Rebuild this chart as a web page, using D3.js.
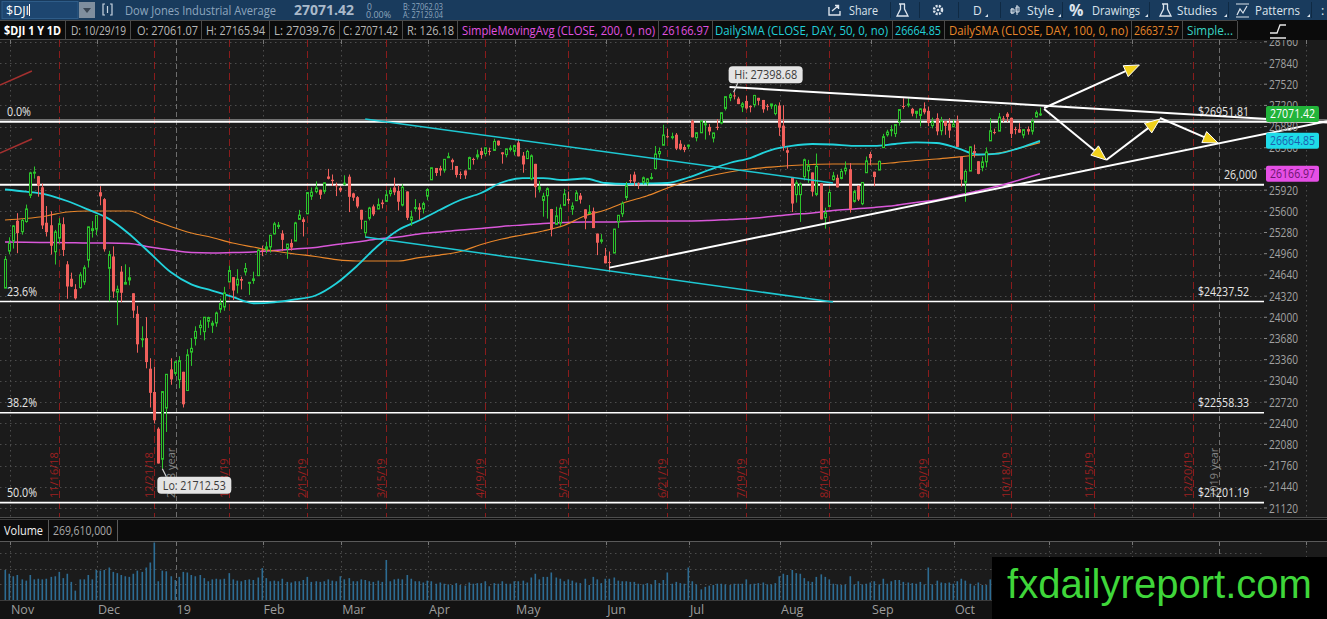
<!DOCTYPE html>
<html>
<head>
<meta charset="utf-8">
<script src="https://cdn.jsdelivr.net/npm/d3@7"></script>
<style>
body { margin: 0; background: #1b1b1b; overflow: hidden; }
svg { display: block; font-family: "Open Sans", sans-serif; }
</style>
</head>
<body>
<div id="chart"></div>
<script>
// daily bars of $DJI, 10/30/18 .. 10/29/19 (one value per trading day)
var opens = [24441, 25000,
  25156, 25458, 25292, 25446, 25841, 26186, 26130, 25963, 25428, 25390, 24990, 25196, 25406, 24800, 24582, 24424, 24448, 24535, 24863, 25309, 25330,
  25888, 25784, 24740, 24918, 24379, 24689, 24500, 24563, 24363, 24052, 23675, 23686, 23224, 22872, 22317, 21857, 22629, 23213, 23153,
  23058, 23177, 22894, 23474, 23680, 23844, 23783, 23940, 23880, 23914, 24122, 24155, 24534, 24606, 24485, 24578, 24685, 24526, 24555, 24628, 25012,
  25026, 25062, 25259, 25371, 25265, 25040, 25123, 25151, 25479, 25479, 25563, 25828, 25898, 25926, 25902, 26126, 26077, 25994, 25954,
  26020, 26123, 25871, 25814, 25623, 25277, 25495, 25674, 25635, 25733, 25750, 25867, 25960, 25909, 25694, 25900, 25468, 25649, 25660, 25638, 25830,
  26076, 26255, 26250, 26222, 26423, 26377, 26285, 26165, 26216, 26238, 26391, 26423, 26510, 26473, 26513, 26520, 26667, 26491, 26456, 26535, 26506,
  26639, 26441, 26396, 26090, 26317, 25932, 25764, 25836, 25635, 25404, 25423, 25690, 25787, 25633, 25761, 25838, 25630, 25567, 25603, 25264, 25147, 24926,
  24836, 24970, 25443, 25563, 25809, 26071, 26155, 26024, 26040, 26033, 26110, 26246, 26469, 26598, 26734, 26719, 26757, 26621, 26572, 26583,
  26964, 26712, 26786, 26911, 26875, 26707, 26876, 26934, 27154, 27315, 27351, 27302, 27177, 27267, 27192, 27212, 27314, 27282, 27193, 27192, 27076, 27197,
  26894, 26523, 26117, 25852, 25851, 26124, 26213, 26187, 25855, 26023, 25504, 25673, 26078, 26106, 26097, 26211, 26236, 25750, 25984, 25715, 26183, 26466,
  26198, 26223, 26562, 26756, 26818, 26774, 26954, 27191, 27212, 27148, 27078, 27048, 27152, 27118, 26895, 27006, 26817, 26961, 26924, 26876,
  26963, 26425, 26039, 26208, 26510, 26357, 26263, 26347, 26664, 26797, 26811, 27003, 27074, 27012, 26842, 26840, 26752, 26842, 26810, 27026, 27061];
var highs = [24925, 25208,
  25393, 25572, 25489, 25702, 26198, 26277, 26135, 26020, 25680, 25600, 25320, 25496, 25509, 24848, 24674, 24500, 24681, 24785, 25367, 25453, 25538,
  25980, 25800, 25004, 25071, 24479, 24773, 24800, 24757, 24363, 24173, 23864, 24003, 23382, 23254, 22339, 22878, 23138, 23381, 23333,
  23413, 23177, 23518, 23687, 23864, 23956, 24002, 24009, 23948, 24086, 24282, 24460, 24778, 24606, 24726, 24613, 24820, 24528, 24689, 25029, 25082,
  25140, 25239, 25441, 25439, 25314, 25106, 25178, 25442, 25622, 25510, 25883, 25961, 26052, 25926, 26036, 26241, 26156, 26034, 25978,
  26144, 26156, 25881, 25830, 25623, 25451, 25668, 25702, 25794, 25776, 25920, 25958, 26109, 25996, 26008, 25900, 25611, 25785, 25723, 25745, 25949,
  26258, 26255, 26288, 26386, 26486, 26398, 26285, 26202, 26218, 26426, 26410, 26531, 26561, 26560, 26561, 26695, 26668, 26491, 26544, 26598, 26606,
  26695, 26496, 26530, 26460, 26317, 26056, 25880, 25962, 25637, 25669, 25706, 25940, 25899, 25735, 25918, 25877, 25630, 25695, 25657, 25264, 25256, 25047,
  24994, 25335, 25544, 25750, 26044, 26159, 26199, 26037, 26126, 26104, 26180, 26586, 26564, 26907, 26844, 26788, 26782, 26674, 26606, 26608,
  26982, 26787, 26966, 26964, 26920, 26787, 26992, 27089, 27332, 27388, 27399, 27330, 27252, 27344, 27198, 27359, 27314, 27282, 27221, 27220, 27218, 27245,
  27202, 26566, 26117, 26070, 26036, 26397, 26377, 26187, 26473, 26023, 25655, 25932, 26196, 26155, 26243, 26354, 26328, 25924, 25995, 26037, 26428, 26500,
  26199, 26366, 26770, 26832, 26901, 26910, 27137, 27307, 27306, 27163, 27113, 27156, 27245, 27178, 27014, 27080, 27027, 26963, 27008, 26985,
  27046, 26425, 26228, 26581, 26608, 26357, 26423, 26565, 27007, 26848, 27085, 27040, 27097, 27012, 26877, 26932, 26837, 26882, 27004, 27123, 27166];
var lows = [24441, 24950,
  25038, 24968, 25248, 25428, 25800, 26094, 25821, 25333, 25220, 24948, 24797, 25123, 24925, 24280, 24458, 24268, 24431, 24490, 24751, 25204, 25240,
  25692, 24992, 24242, 24294, 23881, 24228, 24500, 24484, 23990, 23465, 23547, 23229, 22638, 22396, 21792, 21713, 22268, 22981, 23118,
  22928, 22638, 22894, 23266, 23574, 23730, 23652, 23840, 23764, 23857, 24068, 24098, 24534, 24262, 24361, 24421, 24635, 24338, 24506, 24628, 24924,
  24967, 24977, 25252, 25333, 25000, 24883, 25007, 25151, 25479, 25221, 25563, 25773, 25872, 25786, 25865, 26082, 25983, 25830, 25889,
  25991, 25589, 25758, 25647, 25330, 25208, 25463, 25528, 25635, 25644, 25740, 25825, 25845, 25613, 25674, 25469, 25380, 25594, 25475, 25568, 25766,
  26076, 26134, 26137, 26184, 26410, 26227, 26111, 26088, 26090, 26238, 26306, 26383, 26395, 26438, 26445, 26512, 26590, 26320, 26415, 26504, 26444,
  26430, 26183, 26392, 26068, 25808, 25885, 25519, 25490, 25222, 25404, 25381, 25689, 25707, 25547, 25761, 25717, 25329, 25567, 25347, 24939, 25112, 24815,
  24681, 24970, 25349, 25515, 25768, 26025, 25981, 25938, 26007, 25988, 26080, 26246, 26412, 26598, 26701, 26686, 26525, 26523, 26493, 26539,
  26715, 26657, 26786, 26684, 26749, 26641, 26826, 26914, 27123, 27263, 27290, 27219, 27099, 27137, 27095, 27170, 27201, 27089, 27122, 27146, 27050, 26740,
  26515, 26245, 25590, 25732, 25440, 26067, 26030, 25825, 25829, 25479, 25339, 25673, 26066, 25961, 26083, 26155, 25580, 25732, 25755, 25693, 26183, 26296,
  25978, 26223, 26562, 26728, 26733, 26722, 26894, 27147, 27172, 27035, 27003, 26882, 27065, 26886, 26853, 26749, 26749, 26756, 26709, 26874,
  26573, 25974, 25744, 26208, 26412, 26160, 26204, 26265, 26664, 26764, 26811, 26948, 26951, 26706, 26763, 26787, 26704, 26758, 26759, 27017, 27040];
var closes = [24874, 25116,
  25380, 25271, 25462, 25636, 26181, 26191, 25989, 25387, 25286, 25080, 25289, 25413, 25017, 24465, 24464, 24286, 24640, 24748, 25366, 25338, 25538,
  25826, 25027, 24947, 24389, 24423, 24370, 24527, 24597, 24101, 23592, 23675, 23324, 22859, 22445, 21792, 22878, 23139, 23062, 23327,
  23346, 22686, 23433, 23531, 23787, 23879, 24001, 23996, 23910, 24065, 24207, 24370, 24706, 24404, 24575, 24553, 24737, 24528, 24580, 25014, 24999,
  25064, 25239, 25411, 25390, 25169, 25106, 25053, 25425, 25543, 25439, 25883, 25891, 25954, 25850, 26031, 26091, 26057, 25985, 25916,
  26026, 25819, 25806, 25673, 25473, 25450, 25650, 25554, 25702, 25709, 25849, 25914, 25887, 25745, 25962, 25502, 25516, 25657, 25625, 25717, 25929,
  26258, 26179, 26218, 26385, 26425, 26341, 26150, 26157, 26143, 26412, 26385, 26453, 26450, 26559, 26512, 26656, 26597, 26462, 26543, 26554, 26593,
  26430, 26308, 26505, 26438, 25965, 25968, 25828, 25942, 25325, 25532, 25648, 25862, 25764, 25680, 25877, 25776, 25490, 25586, 25347, 25126, 25169, 24815,
  24820, 25332, 25540, 25720, 25984, 26062, 26049, 26005, 26107, 26090, 26112, 26466, 26504, 26753, 26720, 26728, 26548, 26537, 26527, 26600,
  26718, 26787, 26966, 26922, 26806, 26784, 26860, 27089, 27332, 27360, 27336, 27220, 27223, 27154, 27172, 27350, 27270, 27141, 27192, 27222, 27199, 26864,
  26583, 26485, 25718, 26030, 26008, 26379, 26287, 25897, 26280, 25479, 25579, 25886, 26136, 25962, 26202, 26252, 25629, 25898, 25778, 26036, 26362, 26403,
  26118, 26355, 26728, 26797, 26835, 26910, 27137, 27182, 27220, 27076, 27111, 27147, 27095, 26935, 26949, 26808, 26970, 26891, 26820, 26917,
  26573, 26079, 26202, 26574, 26478, 26165, 26347, 26497, 26817, 26787, 27024, 27002, 27026, 26770, 26828, 26788, 26834, 26806, 26958, 27091, 27071];
// volume, millions of shares
var volumes = [480, 420,
  380, 400, 330, 310, 400, 330, 340, 330, 340, 370, 380, 450, 350, 420, 290, 150, 330, 330, 400, 330, 480,
  470, 480, 520, 450, 430, 400, 380, 370, 420, 470, 450, 520, 600, 920, 300, 470, 460, 380, 320,
  370, 450, 440, 400, 380, 400, 350, 300, 330, 340, 330, 340, 430, 330, 310, 300, 320, 330, 320, 360, 510,
  350, 300, 310, 300, 340, 290, 280, 300, 300, 320, 370, 290, 300, 290, 300, 330, 310, 300, 380,
  330, 350, 300, 300, 330, 320, 300, 290, 310, 290, 640, 300, 330, 340, 330, 400, 340, 300, 300, 280, 310,
  300, 260, 280, 260, 250, 240, 270, 240, 230, 280, 260, 270, 270, 300, 220, 270, 260, 300, 260, 260, 300,
  300, 310, 280, 360, 420, 330, 370, 370, 440, 360, 340, 300, 330, 310, 280, 270, 340, 240, 370, 330, 270, 340,
  340, 360, 310, 300, 300, 290, 290, 260, 250, 270, 250, 320, 270, 320, 440, 260, 290, 270, 260, 520,
  300, 250, 170, 210, 230, 240, 260, 260, 250, 240, 260, 260, 260, 330, 250, 260, 270, 280, 250, 250, 270, 380,
  420, 400, 480, 430, 420, 350, 300, 290, 370, 410, 370, 330, 260, 250, 240, 250, 380, 250, 300, 250, 260, 280,
  300, 250, 340, 260, 300, 320, 320, 290, 280, 270, 260, 290, 250, 520, 250, 310, 280, 270, 280, 260,
  300, 340, 310, 260, 230, 280, 240, 240, 330, 210, 260, 240, 250, 310, 240, 250, 260, 260, 240, 250, 269.61];

// moving averages read every 5th bar (bar 0, 5, 10 ... 250)
var sma50 = [25930, 25898, 25854, 25756, 25629, 25490, 25258, 24971, 24684, 24498, 24403, 24308, 24212, 24225, 24269, 24329, 24510, 24774, 25076, 25318,
  25462, 25620, 25771, 25877, 26035, 26103, 26103, 26073, 26096, 26028, 26013, 26020, 26028, 26111, 26224, 26330, 26405, 26526, 26587, 26617,
  26609, 26587, 26587, 26617, 26640, 26632, 26556, 26458, 26473, 26556, 26665];
var sma100 = [25469, 25492, 25530, 25590, 25605, 25605, 25605, 25484, 25371, 25273, 25205, 25122, 25061, 25001, 24956, 24918, 24872, 24850, 24850, 24850,
  24902, 24940, 24993, 25099, 25182, 25243, 25303, 25386, 25530, 25620, 25741, 25832, 25953, 26058, 26134, 26194, 26239, 26269, 26292, 26307,
  26315, 26315, 26315, 26337, 26368, 26390, 26420, 26451, 26481, 26556, 26638];
var sma200 = [25137, 25133, 25130, 25127, 25122, 25122, 25114, 25061, 25016, 24978, 24971, 24978, 24986, 25009, 25031, 25054, 25099, 25137, 25182, 25212,
  25258, 25288, 25318, 25341, 25371, 25394, 25416, 25431, 25439, 25439, 25447, 25454, 25454, 25454, 25462, 25477, 25492, 25522, 25552, 25575,
  25613, 25635, 25658, 25688, 25734, 25771, 25839, 25907, 25983, 26073, 26167];

var priceTicks = [21120, 21440, 21760, 22080, 22400, 22720, 23040, 23360, 23680, 24000, 24320, 24640, 24960, 25280, 25600, 25920,
  26240, 26560, 26880, 27200, 27520, 27840, 28160];
var volumeGrid = [250, 500, 750];
var monthStarts = ["2018-11-01", "2018-12-03", "2019-01-02", "2019-02-01", "2019-03-01", "2019-04-01", "2019-05-01", "2019-06-03",
  "2019-07-01", "2019-08-01", "2019-09-03", "2019-10-01", "2019-11-01", "2019-12-02", "2020-01-02", "2020-02-03"];
// labels that show left of the watermark box
var monthNames = ["Nov", "Dec", "19", "Feb", "Mar", "Apr", "May", "Jun", "Jul", "Aug", "Sep", "Oct"];
var yearLines = ["2019-01-02", "2020-01-02"];
var yearNames = ["2018 year", "2019 year"];
var expiries = ["2018-11-16", "2018-12-21", "2019-01-18", "2019-02-15", "2019-03-15", "2019-04-19", "2019-05-17", "2019-06-21",
  "2019-07-19", "2019-08-16", "2019-09-20", "2019-10-18", "2019-11-15", "2019-12-20"];
var expiryNames = ["11/16/18", "12/21/18", "1/18/19", "2/15/19", "3/15/19", "4/19/19", "5/17/19", "6/21/19",
  "7/19/19", "8/16/19", "9/20/19", "10/18/19", "11/15/19", "12/20/19"];
var fibLevels = [26951.81, 24237.52, 22558.33, 21201.19];
var fibNames = ["0.0%", "23.6%", "38.2%", "50.0%"];
var holidays = ["2018-11-22", "2018-12-05", "2018-12-25", "2019-01-01", "2019-01-21", "2019-02-18", "2019-04-19", "2019-05-27",
  "2019-07-04", "2019-09-02", "2019-11-28", "2019-12-25", "2020-01-01", "2020-01-20", "2020-02-17"];
var bubbleVals = [27071.42, 26664.85, 26166.97];

// drawings: [date or bar number, price]
var trendLines = [
  {from: ["2019-07-15", 27478], to: ["2019-10-29", 27200], color: "#ffffff", width: 2, extend: true},
  {from: ["2019-06-03", 24750], to: ["2019-10-29", 26076], color: "#ffffff", width: 2, extend: true},
  {from: ["2019-03-08", 26994], to: ["2019-08-19", 26028], color: "#1ec8d2", width: 1.5},
  {from: ["2019-03-08", 25212], to: ["2019-08-19", 24231], color: "#1ec8d2", width: 1.5},
  {from: [-1.2, 27508], to: [6.5, 27719], color: "#a3302f", width: 1.5},
  {from: [-1.2, 26481], to: [6.5, 26692], color: "#a3302f", width: 1.5}
];
var arrows = [
  {from: ["2019-10-30", 27160], to: ["2019-12-03", 27810]},
  {from: ["2019-10-30", 27145], to: ["2019-11-20", 26375]},
  {from: ["2019-11-20", 26375], to: ["2019-12-10", 26994]},
  {from: ["2019-12-10", 27009], to: ["2019-12-31", 26632]}
];

var svgWidth = 1327, svgHeight = 619;
var plotRight = 1264, paneTop = 40, paneBottom = 517;
var bg = "#1b1b1b", upColor = "#2cc42c", downColor = "#f0605c";

// trading calendar
var fmt = d3.utcFormat("%Y-%m-%d");
var days = d3.utcDays(new Date(Date.UTC(2018, 9, 30)), new Date(Date.UTC(2020, 2, 31)))
  .filter(d => d.getUTCDay() % 6 !== 0 && holidays.indexOf(fmt(d)) < 0)
  .map(fmt);
function barOf(v) { return typeof v === "number" ? v : d3.bisectRight(days, v) - 1; }

var x = d3.scaleLinear().domain([0, 250]).range([5, 1040]);
var y = d3.scaleLinear().domain([21120, 27840]).range([508, 63]);
var yVol = d3.scaleLinear().domain([0, 1000]).range([600, 537.5]);

var SVG = d3.select("#chart").append("svg")
  .attr("width", svgWidth)
  .attr("height", svgHeight);

SVG.append("rect").attr("width", svgWidth).attr("height", svgHeight).attr("fill", bg);

var defs = SVG.append("defs");
defs.append("clipPath").attr("id", "pane").append("rect")
  .attr("x", 0).attr("y", paneTop).attr("width", plotRight).attr("height", paneBottom - paneTop);
defs.append("clipPath").attr("id", "paneWide").append("rect")
  .attr("x", 0).attr("y", paneTop).attr("width", svgWidth).attr("height", paneBottom - paneTop);

function txt(g, px, py, s, o) {
  o = o || {};
  var t = g.append("text").attr("x", px).attr("y", py).text(s)
    .attr("font-size", o.size || 12).attr("fill", o.color || "#b5b5b5");
  if (o.weight) t.attr("font-weight", o.weight);
  if (o.anchor) t.attr("text-anchor", o.anchor);
  if (o.len) t.attr("textLength", o.len).attr("lengthAdjust", "spacingAndGlyphs");
  if (o.family) t.attr("font-family", o.family);
  return t;
}

// ---------- grid ----------
var grid = SVG.append("g");
grid.selectAll(".hgrid").data(priceTicks).enter().append("line")
  .attr("x1", 0).attr("x2", plotRight)
  .attr("y1", d => Math.round(y(d)) + 0.5).attr("y2", d => Math.round(y(d)) + 0.5)
  .attr("stroke", "#4c4c4c").attr("stroke-dasharray", "1.5,3.5");

var monthX = monthStarts.map(d => x(barOf(d) - 0.8));
monthStarts.forEach(function(d, k) {
  var mx = Math.round(monthX[k]) + 0.5;
  var isYear = yearLines.indexOf(d) >= 0;
  [[paneTop, paneBottom], [541, 600]].forEach(function(r) {
    grid.append("line").attr("x1", mx).attr("x2", mx).attr("y1", r[0]).attr("y2", r[1])
      .attr("stroke", isYear ? "#6e6e6e" : "#4c4c4c")
      .attr("stroke-dasharray", isYear ? "5,3" : "1.5,3.5");
    grid.append("line").attr("x1", mx).attr("x2", mx).attr("y1", r[0]).attr("y2", r[0] + 4)
      .attr("stroke", "#777");
  });
});

// option expiration lines
expiries.forEach(function(d, k) {
  var ex = Math.round(x(barOf(d))) + 0.5;
  grid.append("line").attr("x1", ex).attr("x2", ex).attr("y1", paneTop).attr("y2", paneBottom)
    .attr("stroke", "#8a1c1c").attr("stroke-dasharray", "7,4");
  grid.append("text").attr("transform", "translate(" + (ex - 1.5) + ",498) rotate(-90)")
    .attr("font-size", 11).attr("fill", "#9c2020").text(expiryNames[k]);
});
yearLines.forEach(function(d, k) {
  var yx = Math.round(x(barOf(d) - 0.8)) + 0.5;
  grid.append("text").attr("transform", "translate(" + (yx - 2) + ",498) rotate(-90)")
    .attr("font-size", 11).attr("fill", "#848484").text(yearNames[k]);
});

// ---------- horizontal levels ----------
var levels = SVG.append("g");
fibLevels.forEach(function(v, k) {
  var ly = y(v);
  if (k === 0) {
    levels.append("line").attr("x1", 0).attr("x2", svgWidth).attr("y1", ly - 2).attr("y2", ly - 2)
      .attr("stroke", "#9a9a9a").attr("stroke-width", 1);
  }
  levels.append("line").attr("x1", 0).attr("x2", k === 0 ? svgWidth : plotRight).attr("y1", ly).attr("y2", ly)
    .attr("stroke", "#ffffff").attr("stroke-width", k === 0 ? 2 : 1.6);
  txt(levels, 7, ly - 6, fibNames[k], {color: "#e6e6e6", size: 12, len: k === 0 ? 24 : 30});
  txt(levels, 1249, ly - 6, "$" + d3.format(".2f")(v), {color: "#e6e6e6", size: 12, anchor: "end", len: 51});
});
var line26k = 26000;
levels.append("line").attr("x1", 0).attr("x2", plotRight).attr("y1", y(line26k)).attr("y2", y(line26k))
  .attr("stroke", "#ffffff").attr("stroke-width", 2);
txt(levels, 1257, y(line26k) - 6, d3.format(",")(line26k), {color: "#e6e6e6", size: 12, anchor: "end", len: 33});

// ---------- moving averages ----------
var smaLine = d3.line().x((d, k) => x(k * 5)).y(d => y(d)).curve(d3.curveMonotoneX);
var studies = SVG.append("g").attr("clip-path", "url(#pane)");
studies.append("path").datum(sma200).attr("d", smaLine).attr("fill", "none").attr("stroke", "#d957d9").attr("stroke-width", 1.5);
studies.append("path").datum(sma100).attr("d", smaLine).attr("fill", "none").attr("stroke", "#e8862a").attr("stroke-width", 1.2);
studies.append("path").datum(sma50).attr("d", smaLine).attr("fill", "none").attr("stroke", "#22d3dc").attr("stroke-width", 1.8);

// ---------- candles ----------
var Data = closes.map((c, i) => ({i: i, o: opens[i], h: highs[i], l: lows[i], c: c, v: volumes[i]}));
var candles = SVG.append("g").attr("clip-path", "url(#pane)");
candles.selectAll(".wick").data(Data).enter().append("line")
  .attr("x1", d => Math.round(x(d.i)) + 0.5).attr("x2", d => Math.round(x(d.i)) + 0.5)
  .attr("y1", d => y(d.h)).attr("y2", d => y(d.l))
  .attr("stroke", d => d.c >= d.o ? upColor : downColor).attr("stroke-width", 1);
candles.selectAll(".body").data(Data).enter().append("rect")
  .attr("x", d => d.c >= d.o ? Math.round(x(d.i)) - 0.5 : Math.round(x(d.i)) - 1)
  .attr("width", d => d.c >= d.o ? 2 : 3)
  .attr("y", d => y(Math.max(d.o, d.c)))
  .attr("height", d => Math.max(1, Math.abs(y(d.o) - y(d.c))))
  .attr("fill", d => d.c >= d.o ? bg : downColor)
  .attr("stroke", d => d.c >= d.o ? upColor : "none")
  .attr("stroke-width", 1);

// ---------- drawings ----------
var draw = SVG.append("g").attr("clip-path", "url(#paneWide)");
function pt(p) { return [x(barOf(p[0])), y(p[1])]; }
trendLines.forEach(function(t) {
  var a = pt(t.from), b = pt(t.to);
  if (t.extend) {
    var s = (b[1] - a[1]) / (b[0] - a[0]);
    b = [svgWidth, a[1] + s * (svgWidth - a[0])];
  }
  draw.append("line").attr("x1", a[0]).attr("y1", a[1]).attr("x2", b[0]).attr("y2", b[1])
    .attr("stroke", t.color).attr("stroke-width", t.width);
});
arrows.forEach(function(t) {
  var a = pt(t.from), b = pt(t.to);
  var ang = Math.atan2(b[1] - a[1], b[0] - a[0]);
  var len = 15, half = 6;
  var bx = b[0] - len * Math.cos(ang), by = b[1] - len * Math.sin(ang);
  draw.append("line").attr("x1", a[0]).attr("y1", a[1]).attr("x2", bx).attr("y2", by)
    .attr("stroke", "#ffffff").attr("stroke-width", 2);
  var head = [[b[0], b[1]],
    [bx + half * Math.sin(ang), by - half * Math.cos(ang)],
    [bx - half * Math.sin(ang), by + half * Math.cos(ang)]];
  draw.append("polygon").attr("points", head.map(p => p.join(",")).join(" "))
    .attr("fill", "#f2d21b").attr("stroke", "#ffffff").attr("stroke-width", 1);
});

// hi / lo bubbles
var hiBar = barOf("2019-07-16"), hiVal = 27398.68;
var loBar = barOf("2018-12-26"), loVal = 21712.53;
function bubble(bx, by, label, up) {
  var g = SVG.append("g");
  var top = up ? by - 26 : by + 8;
  g.append("line").attr("x1", bx).attr("y1", by).attr("x2", bx + 4).attr("y2", up ? top + 17 : top)
    .attr("stroke", "#d8d8d8").attr("stroke-width", 1.2);
  g.append("rect").attr("x", bx - 5).attr("y", top).attr("width", 74).attr("height", 17).attr("rx", 4)
    .attr("fill", "#e4e4e4");
  txt(g, bx + 32, top + 13, label, {color: "#3a3a3a", size: 12, anchor: "middle", len: 63});
}
bubble(x(hiBar), y(hiVal), "Hi: " + d3.format(".2f")(hiVal), true);
bubble(x(loBar), y(loVal), "Lo: " + d3.format(".2f")(loVal), false);

// ---------- price axis ----------
var axis = SVG.append("g");
var bubbleY = bubbleVals.map(v => y(v));
priceTicks.forEach(function(v) {
  axis.append("line").attr("x1", plotRight).attr("x2", plotRight + 3).attr("y1", y(v)).attr("y2", y(v)).attr("stroke", "#888");
  // a label sitting right under a price bubble is fully hidden
  if (bubbleY.some(by => Math.abs(by - y(v)) < 6)) return;
  txt(axis, plotRight + 5, y(v) + 4.5, v, {color: "#a2a2a2", size: 12, len: 29});
});
var bubbleStyle = [["#22b43a", "#ffffff"], ["#1edbe8", "#1d5fae"], ["#e54fe5", "#6e1470"]];
bubbleVals.forEach(function(v, k) {
  var by = y(v);
  axis.append("rect").attr("x", plotRight + 2).attr("y", by - 8).attr("width", 53).attr("height", 16).attr("rx", 2)
    .attr("fill", bubbleStyle[k][0]);
  txt(axis, plotRight + 28.5, by + 4.5, d3.format(".2f")(v), {color: bubbleStyle[k][1], size: 12, anchor: "middle", len: 45});
});

// ---------- volume pane ----------
SVG.append("rect").attr("x", 0).attr("y", 518).attr("width", svgWidth).attr("height", 23).attr("fill", "#0c0c0c");
SVG.append("line").attr("x1", 0).attr("x2", svgWidth).attr("y1", 517.5).attr("y2", 517.5).attr("stroke", "#4e4e4e");
SVG.append("line").attr("x1", 0).attr("x2", svgWidth).attr("y1", 519.5).attr("y2", 519.5).attr("stroke", "#3a3a3a");
SVG.append("line").attr("x1", 0).attr("x2", svgWidth).attr("y1", 541.5).attr("y2", 541.5).attr("stroke", "#5a5a5a");
SVG.append("line").attr("x1", 48.5).attr("x2", 48.5).attr("y1", 520).attr("y2", 541).attr("stroke", "#5a5a5a");
SVG.append("line").attr("x1", 117.5).attr("x2", 117.5).attr("y1", 520).attr("y2", 541).attr("stroke", "#5a5a5a");
txt(SVG, 4, 535, "Volume", {color: "#f0f0f0", size: 12.5, len: 39});
txt(SVG, 53, 535, d3.format(",")(Math.round(volumes[volumes.length - 1] * 1e6)), {color: "#a8a8a8", size: 12.5, len: 59});

SVG.selectAll(".vgrid").data(volumeGrid).enter().append("line")
  .attr("x1", 0).attr("x2", plotRight)
  .attr("y1", d => Math.round(yVol(d)) + 0.5).attr("y2", d => Math.round(yVol(d)) + 0.5)
  .attr("stroke", "#4c4c4c").attr("stroke-dasharray", "1.5,3.5");
SVG.append("g").selectAll("rect").data(Data).enter().append("rect")
  .attr("x", d => Math.round(x(d.i)) - 0.5)
  .attr("width", 1.6)
  .attr("y", d => yVol(d.v))
  .attr("height", d => yVol(0) - yVol(d.v))
  .attr("fill", "#2d6c93");

// time axis
SVG.append("rect").attr("x", 0).attr("y", 600).attr("width", svgWidth).attr("height", 19).attr("fill", "#131313");
SVG.append("line").attr("x1", 0).attr("x2", plotRight).attr("y1", 600.5).attr("y2", 600.5).attr("stroke", "#3c3c3c");
monthNames.forEach(function(m, k) {
  txt(SVG, monthX[k] + 1, 614, m, {color: "#9c9c9c", size: 12.5});
});

// ---------- header ----------
var head = SVG.append("g");
head.append("rect").attr("x", 0).attr("y", 0).attr("width", svgWidth).attr("height", 20).attr("fill", "#193b5d");
head.append("rect").attr("x", 2).attr("y", 1.5).attr("width", 76).attr("height", 17).attr("fill", "#1d4670").attr("stroke", "#2e5c88");
txt(head, 6, 14.5, "$DJI", {color: "#ffffff", size: 12.5});
head.append("line").attr("x1", 29.5).attr("x2", 29.5).attr("y1", 4).attr("y2", 16).attr("stroke", "#ffffff");
head.append("rect").attr("x", 79).attr("y", 2).attr("width", 16).attr("height", 16).attr("fill", "#7f8e9e");
head.append("path").attr("d", "M83,8 L91,8 L87,13 Z").attr("fill", "#3a4654");
head.append("path").attr("d", "M105,4 L103,4 L103,15 L105,15 M110,4 L112,4 L112,15 L110,15 M107.5,6 L107.5,13")
  .attr("fill", "none").attr("stroke", "#c8d4e0").attr("stroke-width", 1.2);
txt(head, 125, 14.5, "Dow Jones Industrial Average", {color: "#8ea6be", size: 13, len: 151});
txt(head, 294, 15, "27071.42", {color: "#a9b9ca", size: 15, weight: "bold", len: 60});
txt(head, 367, 9.5, "0", {color: "#8ea6be", size: 8.5});
txt(head, 366, 18, "0.00%", {color: "#8ea6be", size: 8.5, len: 25});
txt(head, 403, 9.5, "B: 27062.03", {color: "#8ea6be", size: 8.5, len: 40});
txt(head, 403, 18, "A: 27129.04", {color: "#8ea6be", size: 8.5, len: 40});

[890, 919, 958, 1000, 1062, 1149, 1228, 1311].forEach(function(sx) {
  head.append("line").attr("x1", sx + 0.5).attr("x2", sx + 0.5).attr("y1", 2).attr("y2", 18).attr("stroke", "#0f2a44");
});
var hc = "#dbe3ec";
head.append("path").attr("d", "M829,7 L829,15 L840,15 L840,11 M832,11 L838,6 M835,5.5 L838.5,5.5 L838.5,9")
  .attr("fill", "none").attr("stroke", hc).attr("stroke-width", 1.4);
txt(head, 849, 14.5, "Share", {color: hc, size: 12.5, len: 29});
head.append("path").attr("d", "M899,4 L905,4 M900.5,4 L900.5,9 L897,16 L908,16 L904.5,9 L904.5,4")
  .attr("fill", "none").attr("stroke", hc).attr("stroke-width", 1.3);
head.append("circle").attr("cx", 938).attr("cy", 10).attr("r", 4).attr("fill", "none").attr("stroke", hc).attr("stroke-width", 2.5)
  .attr("stroke-dasharray", "2,1.2");
head.append("circle").attr("cx", 938).attr("cy", 10).attr("r", 1.3).attr("fill", hc);
txt(head, 973, 14.5, "D", {color: hc, size: 12});
head.append("path").attr("d", "M1012,8 L1012,14 M1011,9 L1014,9 L1014,13 L1011,13 Z M1017,5 L1017,15 M1016,7 L1019,7 L1019,12 L1016,12 Z")
  .attr("fill", "none").attr("stroke", hc).attr("stroke-width", 1);
txt(head, 1027, 14.5, "Style", {color: hc, size: 12.5, len: 27});
txt(head, 1069, 16, "%", {color: hc, size: 16, weight: "bold"});
txt(head, 1092, 14.5, "Drawings", {color: hc, size: 12.5, len: 48});
head.append("path").attr("d", "M1162,4 L1168,4 M1163.5,4 L1163.5,9 L1160,16 L1171,16 L1167.5,9 L1167.5,4")
  .attr("fill", "none").attr("stroke", hc).attr("stroke-width", 1.3);
txt(head, 1177, 14.5, "Studies", {color: hc, size: 12.5, len: 40});
head.append("path").attr("d", "M1236,4 L1249,4 M1237,15 L1240,9 L1243,13 L1247,6 M1236,17 L1249,17")
  .attr("fill", "none").attr("stroke", hc).attr("stroke-width", 1.2);
txt(head, 1255, 14.5, "Patterns", {color: hc, size: 12.5, len: 45});
txt(head, 1321, 14.5, ":", {color: hc, size: 12.5});
[985, 1058, 1145, 1224, 1307].forEach(function(tx) {
  head.append("path").attr("d", "M" + tx + ",17 L" + (tx + 3) + ",17 L" + (tx + 3) + ",14 Z").attr("fill", hc);
});

// header row 2 (study legend)
head.append("rect").attr("x", 0).attr("y", 20).attr("width", svgWidth).attr("height", 20).attr("fill", "#0b0b0b");
head.append("line").attr("x1", 0).attr("x2", 1237).attr("y1", 20.5).attr("y2", 20.5).attr("stroke", "#4a4a4a");
head.append("line").attr("x1", 0).attr("x2", 1237).attr("y1", 39.5).attr("y2", 39.5).attr("stroke", "#4a4a4a");
var legend = [
  ["$DJI 1 Y 1D", 4, 57, "#ffffff", "bold", 65],
  ["D: 10/29/19", 71, 55, "#b8b8b8", null, 130],
  ["O: 27061.07", 137, 61, "#b8b8b8", null, 201],
  ["H: 27165.94", 206, 59, "#b8b8b8", null, 269],
  ["L: 27039.76", 274, 61, "#b8b8b8", null, 339],
  ["C: 27071.42", 343, 55, "#b8b8b8", null, 402],
  ["R: 126.18", 407, 47, "#b8b8b8", null, 457],
  ["SimpleMovingAvg (CLOSE, 200, 0, no)", 462, 193, "#e052e0", null, 658],
  ["26166.97", 662, 47, "#e052e0", null, 712],
  ["DailySMA (CLOSE, DAY, 50, 0, no)", 715, 173, "#22d0d8", null, 892],
  ["26664.85", 895, 46, "#22d0d8", null, 944],
  ["DailySMA (CLOSE, DAY, 100, 0, no)", 949, 179, "#e8862a", null, 1131],
  ["26637.57", 1134, 45, "#e8862a", null, 1182],
  ["Simple...", 1187, 46, "#3ad4c4", null, 1237]
];
legend.forEach(function(l) {
  txt(head, l[1], 35, l[0], {color: l[3], size: 12.5, weight: l[4], len: l[2]});
  head.append("line").attr("x1", l[5] + 0.5).attr("x2", l[5] + 0.5).attr("y1", 21).attr("y2", 39).attr("stroke", "#4a4a4a");
});
head.append("path").attr("d", "M1270,33 L1277,33 L1280,25 L1286,25 M1270,38 L1286,38")
  .attr("fill", "none").attr("stroke", "#e8e8e8").attr("stroke-width", 1.3);

// ---------- watermark ----------
SVG.append("rect").attr("x", 992).attr("y", 557).attr("width", svgWidth - 992).attr("height", svgHeight - 557).attr("fill", "#000000");
txt(SVG, 1007, 598, "fxdailyreport.com", {color: "#3fd63a", size: 40, family: "'Liberation Sans', Arial, sans-serif", len: 305});
</script>
</body>
</html>
